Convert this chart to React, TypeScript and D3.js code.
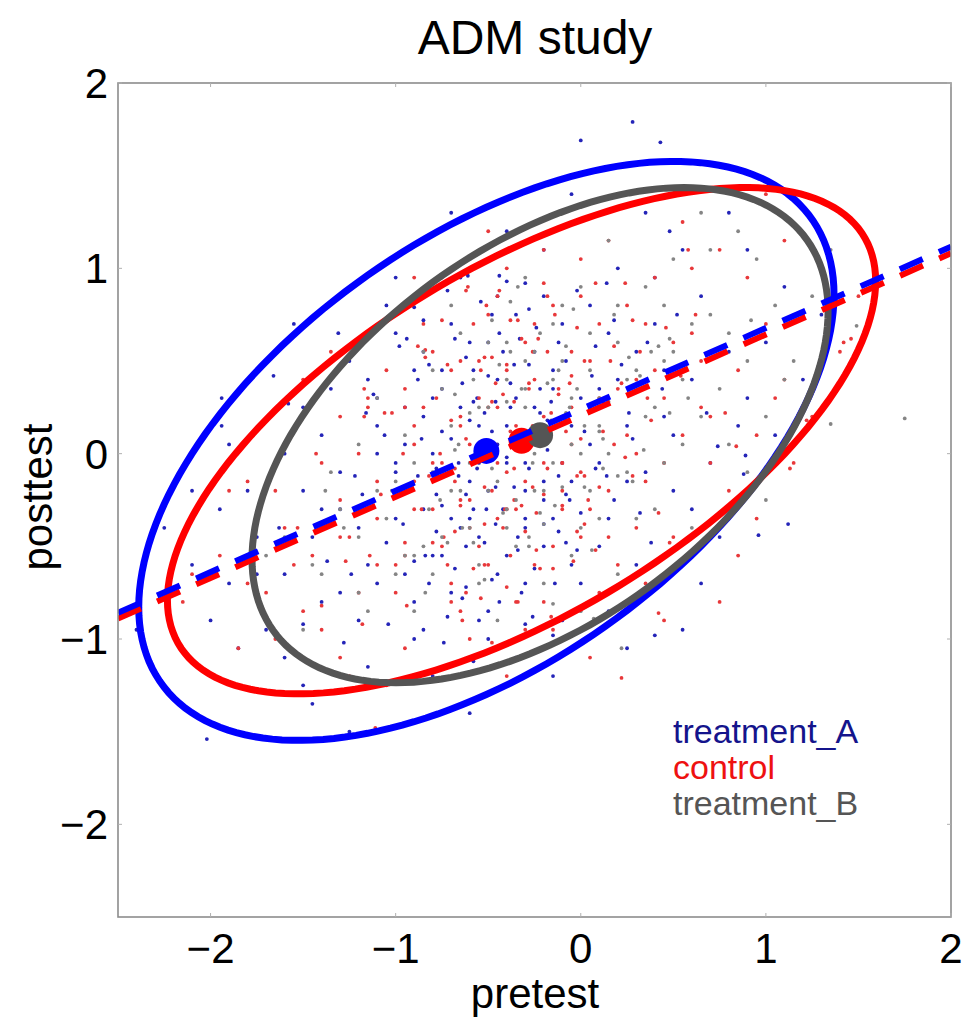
import { useEffect, useRef } from 'react';
import * as d3 from 'd3';

// scatter points: pretest, posttest pairs (in hundredths)
const treatmentA = [
  -120,-40, -35,30, -80,-55, 10,35, -150,-20, -60,60, -20,-25, 40,70, -95,5, -5,-60,
  -130,-75, -70,-10, 25,15, -45,85, -110,30, 15,-35, -160,-65, -25,55, 60,40, -85,-30,
  -200,-90, -55,-45, -10,20, -140,10, 35,-10, -75,45, -30,-70, 80,55, -115,-60, -40,15,
  5,80, -90,-100, -65,25, 50,-20, -175,-45, -15,45, -100,65, 20,100, -50,-20, -130,-10,
  90,30, -70,-75, -25,5, -160,-110, 30,55, -5,-15, -85,20, 65,85, -120,-90, -45,40,
  -180,-20, 10,-50, -60,-35, 45,20, -95,-65, -35,75, -145,-45, 70,-5, -20,110, -110,0,
  -55,-90, 15,65, -190,-70, -75,35, 100,60, -30,-40, -125,50, 0,30, -80,-120, 55,110,
  -210,-60, -40,-5, 25,-15, -100,-35, -65,95, 85,15, -150,25, -10,-90, -170,-95, 35,130,
  -85,55, -140,-80, 60,-30, -20,-50, -115,40, 110,90, -50,60, -200,-120, 5,5, -75,-55,
  -35,-110, -105,80, 20,40, -160,0, 75,-45, -60,-15, -225,-40, 40,95, -90,-80, -10,70,
  120,40, -130,-30, -45,-65, -5,140, -185,-105, 30,-60, -70,70, -115,-115, 90,110, -25,25,
  -150,-125, 50,10, -95,110, -30,-20, -170,50, 15,-85, -55,15, -240,-95, 65,-70, -80,0,
  -135,35, -15,-35, -60,-140, 105,10, -195,-30, -40,120, 25,-105, -100,-10, 130,75, -65,-40,
  -20,85, -125,-150, 0,-70, -85,-95, 45,45, -155,70, 80,130, -50,-100, -210,-20, -110,15,
  10,-5, -70,130, -175,-65, 55,-95, -30,-5, -145,-135, 95,-15, -90,45, -15,-120, -60,105,
  28,179, 0,169, 43,168, -202,-154, -131,65, -194,30, -194,15, -166,42, -158,27, -90,79,
  -44,96, -40,93, -61,96, 96,-44, 40,-98, 89,-1, 88,-11,
  -48,12, -28,-8, -62,-22, -38,38, -70,8, -18,18, -52,-48, -8,50, -88,-12, -42,-30,
  -33,62, -58,28, -75,-28, -12,-12, -95,25, -25,-62, -48,75, -68,-62, 2,12, -105,-48,
  -22,35, -82,48, -36,-18, -55,-5, -12,-42, -78,-42, -30,92, -62,52, -44,-80, 8,58,
  68,22, -118,-22, -26,-88, -6,-25, -98,58, 18,72, -137,-58, -51,-30, 32,-32, -72,88,
  -163,-40, -46,28, 112,-38, -15,-98, -85,72, 48,120, -128,-102, -58,-112, 74,4, -190,5,
  -2,-52, -116,22, -34,-52, 52,75, -150,-92, -78,-8, 14,92, -64,-78, -100,95, 38,-48,
  -45,5, -22,22, -66,-12, -30,-35, -58,45, -10,-5, -80,30, -40,-55, -15,35, -70,-35,
  -52,22, -28,48, -92,-20, -5,15, -62,-50, -36,5, -84,-55, 12,28, -48,-68, -20,-15,
  -75,12, -42,55, -100,-5, 0,-32, -56,-8, -24,68, -88,40, -34,-45, -110,-70, 22,48,
  -46,-18, -14,-70, -64,38, 6,42, -96,-38, -38,25, -72,-88, -18,2, -54,82, -122,-12,
  -8,-22, -60,18, -30,-92, 28,8, -86,8, -50,42, -104,-92, -26,12, -68,62, 14,-12,
  -40,-2, -78,-22, -12,60, -58,-30, -32,-75, 44,35, -94,62, -20,-38, -66,-5, -2,88,
  -140,-30, -50,-85, 18,-25, -82,-70, -44,65, -106,10, -16,28, -74,-102, 36,60, -56,30,
  -124,-65, -8,-48, -36,48, -90,-58, 26,22, -62,-72, -112,32, -28,78, -46,-38, 8,-8,
];

const control = [
  -90,-30, -10,20, -60,-40, 30,40, -130,-25, -40,45, 0,-10, 60,65, -75,-5, 15,-45,
  -110,-60, -50,0, 45,30, -25,70, -95,25, 35,-15, -145,-55, -5,55, 85,45, -65,-25,
  -180,-70, -35,-30, 10,30, -120,0, 55,10, -55,50, -15,-50, 100,70, -95,-55, -20,20,
  25,80, -70,-80, -45,25, 70,-5, -160,-40, 5,50, -80,55, 40,95, -30,-15, -110,-15,
  110,40, -50,-60, -5,5, -140,-95, 50,60, 15,-20, -65,15, 90,95, -100,-75, -25,40,
  -165,-20, 30,-40, -40,-30, 65,25, -75,-50, -15,80, -125,-45, 95,10, 0,105, -90,5,
  -35,-80, 35,70, -170,-75, -55,30, 120,75, -10,-30, -105,45, 20,35, -60,-100, 75,110,
  -195,-55, -20,-5, 45,-5, -80,-30, -45,85, 105,30, -130,20, 10,-75, -150,-85, 55,125,
  -65,50, -120,-75, 80,-20, 0,-45, -95,35, 130,100, -30,60, -185,-105, 25,10, -55,-50,
  -15,-95, -85,70, 40,45, -140,-5, 95,-35, -40,-10, -210,-65, 60,100, -70,-70, 10,70,
  140,55, -110,-35, -25,-60, 15,115, -165,-100, 50,-45, -50,75, -95,-105, 110,115, -5,25,
  -130,-110, 70,20, -75,95, -10,-20, -150,40, 35,-70, -35,15, -215,-80, 85,-55, -60,5,
  -115,30, 5,-30, -40,-120, 125,20, -175,-35, -20,110, 45,-90, -80,-5, 150,85, -45,-35,
  0,85, -105,-125, 20,-60, -65,-85, 65,50, -135,55, 100,140, -30,-95, -190,-20, -90,15,
  30,0, -50,120, -155,-60, 75,-80, -10,-5, -125,-120, 115,-5, -70,45, 5,-110, -40,100,
  22,-121, 42,-86, 113,-8, 142,60, 146,62, -111,-148, -61,90, -51,80, -84,56, -117,35,
  -115,25, -143,0, -117,20,
  -38,12, -18,-8, -52,-18, -28,38, -62,8, -8,18, -42,-40, 2,50, -78,-12, -32,-28,
  -23,62, -48,28, -65,-28, -2,-12, -85,25, -15,-62, -38,72, -58,-62, 12,12, -95,-48,
  -12,35, -72,48, -26,-18, -45,-5, -2,-42, -68,-42, -20,92, -52,52, -34,-80, 18,58,
  78,22, -108,-22, -16,-88, 4,-25, -88,58, 28,72, -127,-58, -41,-30, 42,-32, -62,88,
  -153,-40, -36,28, 122,18, -5,-98, -75,72, 58,110, -118,-92, -48,-102, 84,4, -180,-15,
  8,-52, -106,22, -24,-52, 62,75, -140,-82, -68,-8, 24,92, -54,-78, -90,95, 48,-48,
  -35,12, -12,32, -56,-2, -20,-22, -48,52, 0,8, -70,18, -30,-42, -5,42, -60,-25,
  -42,32, -18,55, -82,-12, 5,25, -52,-38, -26,15, -74,-45, 22,38, -38,-55, -10,-5,
  -65,20, -32,62, -90,-15, 10,-18, -46,5, -14,75, -78,30, -24,-32, -100,-60, 32,55,
  -36,-8, -4,-58, -54,45, 16,50, -86,-30, -28,35, -62,-75, -8,12, -44,88, -112,-25,
  2,-12, -50,25, -20,-80, 38,18, -76,0, -40,48, -94,-82, -16,22, -58,70, 24,-2,
  -30,8, -68,-15, -2,68, -48,-20, -22,-62, 54,42, -84,52, -10,-28, -56,2, 8,92,
  -130,-45, -40,-72, 28,-12, -72,-60, -34,72, -96,0, -6,38, -64,-90, 46,68, -46,38,
  -114,-55, 2,-38, -26,55, -80,-48, 36,30, -52,-60, -102,22, -18,85, -36,-25, 18,5,
];

const treatmentB = [
  -70,-20, 10,30, -40,-30, 45,50, -100,-15, -25,55, 15,0, 70,75, -55,5, 30,-35,
  -85,-50, -30,10, 55,40, -10,80, -75,35, 45,-5, -120,-45, 5,65, 90,50, -45,-15,
  -145,-60, -20,-20, 25,40, -95,10, 65,20, -40,60, 0,-40, 105,80, -75,-45, -5,30,
  35,90, -55,-70, -30,35, 80,5, -130,-30, 20,60, -65,65, 50,105, -15,-5, -90,-5,
  115,50, -35,-50, 10,15, -115,-85, 60,70, 25,-10, -50,25, 95,105, -80,-65, -10,50,
  -135,-10, 40,-30, -25,-20, 75,35, -60,-40, 0,90, -105,-35, 100,20, 15,115, -70,15,
  -20,-70, 45,80, -140,-65, -40,40, 125,85, 5,-20, -85,55, 30,45, -45,-90, 85,120,
  -160,-45, -5,5, 55,5, -65,-20, -30,95, 110,40, -110,30, 20,-65, -120,-75, 65,130,
  -50,60, -100,-65, 90,-10, 10,-35, -80,45, 135,110, -15,70, -150,-95, 35,20, -40,-40,
  0,-85, -70,80, 50,55, -120,5, 100,-25, -25,0, -170,-55, 70,110, -55,-60, 20,80,
  -30,25, -5,-55, -60,-5, 40,25, -90,-85, -15,40, 80,65, -45,-105, 60,-40, -110,-20,
  175,19, -35,-25, 12,8, -58,40, 28,-15, -82,-30, -8,22, 48,62, -28,-45, -48,-8,
  -12,45, -68,2, 38,55, -22,-32, 18,75, -95,-55, 58,30, -38,82, 2,-18, -128,-40,
  149,69, 135,16, 7,-89, -15,-81, -52,110, 22,-105, -72,-48, 92,72, -138,-20, -18,12,
  -25,15, -2,35, -46,2, -10,-18, -38,55, 10,12, -60,22, -20,-38, 5,45, -50,-20,
  -32,35, -8,58, -72,-8, 15,28, -42,-32, -16,18, -64,-40, 32,42, -28,-50, 0,0,
  -55,25, -22,65, -80,-10, 20,-12, -36,8, -4,78, -68,32, -14,-28, -90,-55, 42,58,
  -26,-5, 6,-52, -44,48, 26,52, -76,-25, -18,38, -52,-68, 2,15, -34,90, -102,-20,
  12,-8, -40,28, 48,22, -66,5, -30,50, -84,-75, -6,25, -48,72, 34,2, -58,-48,
];

const groups = ['treatment_A', 'control', 'treatment_B'];
const pointColors = ['#2424b8', '#e8383a', '#858585'];
const lineColors = ['#0000ff', '#ff0000', '#555555'];
const legendColors = ['#14148c', '#ee1111', '#555555'];

// group means and 95% ellipse (half extents, correlation)
const meanPretest = [-0.51, -0.32, -0.22];
const meanPosttest = [0.015, 0.07, 0.1];
const ellipseRx = [1.878, 1.913, 1.556];
const ellipseRy = [1.562, 1.366, 1.336];
const ellipseRho = [0.54, 0.63, 0.5];

// regression lines (treatment_A, control)
const lineIntercept = [0.239, 0.205];
const lineSlope = [0.439, 0.438];

const xTicks = [-2, -1, 0, 1, 2];
const yTicks = [-2, -1, 0, 1, 2];

function App() {
  const ref = useRef<SVGSVGElement>(null);

  useEffect(() => {
    drawChart();
    // eslint-disable-next-line
  }, []);

  function drawChart() {
    const svg = d3.select(ref.current);
    svg.selectAll('*').remove();

    const font = '"Liberation Sans", Arial, sans-serif';
    const x = d3.scaleLinear().domain([-2.5, 2]).range([118, 951]);
    const y = d3.scaleLinear().domain([-2.5, 2]).range([917, 83]);

    svg.append('defs').append('clipPath').attr('id', 'plot-clip')
      .append('rect')
      .attr('x', 118).attr('y', 83)
      .attr('width', 951 - 118).attr('height', 917 - 83);

    const plot = svg.append('g').attr('clip-path', 'url(#plot-clip)');

    const sets = [treatmentA, control, treatmentB].map(arr =>
      d3.range(arr.length / 2).map(i => [arr[2 * i] / 100, arr[2 * i + 1] / 100]));

    sets.forEach((pts, gi) => {
      plot.append('g')
        .selectAll('circle')
        .data(pts)
        .enter()
        .append('circle')
        .attr('cx', d => x(d[0]))
        .attr('cy', d => y(d[1]))
        .attr('r', 1.9)
        .attr('fill', pointColors[gi]);
    });

    // ellipses
    const angles = d3.range(0, 2 * Math.PI, Math.PI / 90);
    const ellipseLine = d3.line<number[]>()
      .x(d => x(d[0]))
      .y(d => y(d[1]))
      .curve(d3.curveLinearClosed);

    groups.forEach((_, gi) => {
      const rho = ellipseRho[gi];
      const pts = angles.map(t => [
        meanPretest[gi] + ellipseRx[gi] * Math.cos(t),
        meanPosttest[gi] + ellipseRy[gi] * (rho * Math.cos(t) + Math.sqrt(1 - rho * rho) * Math.sin(t)),
      ]);
      plot.append('path')
        .attr('d', ellipseLine(pts))
        .attr('fill', 'none')
        .attr('stroke', lineColors[gi])
        .attr('stroke-width', 7);
    });

    // group means
    groups.forEach((_, gi) => {
      plot.append('circle')
        .attr('cx', x(meanPretest[gi]))
        .attr('cy', y(meanPosttest[gi]))
        .attr('r', 13)
        .attr('fill', lineColors[gi]);
    });

    // dashed regression lines, control first then treatment_A on top
    [1, 0].forEach(gi => {
      plot.append('line')
        .attr('x1', x(-2.5))
        .attr('y1', y(lineIntercept[gi] + lineSlope[gi] * -2.5))
        .attr('x2', x(2))
        .attr('y2', y(lineIntercept[gi] + lineSlope[gi] * 2))
        .attr('stroke', lineColors[gi])
        .attr('stroke-width', 6)
        .attr('stroke-dasharray', '25 17.7');
    });

    // frame
    svg.append('rect')
      .attr('x', 118).attr('y', 83)
      .attr('width', 951 - 118).attr('height', 917 - 83)
      .attr('fill', 'none')
      .attr('stroke', '#8c8c8c')
      .attr('stroke-width', 1.6);

    const ticks = svg.append('g').attr('stroke', '#b0b0b0').attr('stroke-width', 1);
    xTicks.forEach(t => {
      ticks.append('line').attr('x1', x(t)).attr('x2', x(t)).attr('y1', 917).attr('y2', 913);
      ticks.append('line').attr('x1', x(t)).attr('x2', x(t)).attr('y1', 83).attr('y2', 87);
    });
    yTicks.forEach(t => {
      ticks.append('line').attr('y1', y(t)).attr('y2', y(t)).attr('x1', 118).attr('x2', 122);
      ticks.append('line').attr('y1', y(t)).attr('y2', y(t)).attr('x1', 951).attr('x2', 947);
    });

    const fmt = (t: number) => (t < 0 ? '\u2212' + Math.abs(t) : String(t));

    svg.append('g')
      .selectAll('text')
      .data(xTicks)
      .enter()
      .append('text')
      .attr('x', d => x(d))
      .attr('y', 963)
      .attr('text-anchor', 'middle')
      .style('font-family', font)
      .style('font-size', '42px')
      .text(d => fmt(d));

    svg.append('g')
      .selectAll('text')
      .data(yTicks)
      .enter()
      .append('text')
      .attr('x', 108)
      .attr('y', d => y(d) + 15)
      .attr('text-anchor', 'end')
      .style('font-family', font)
      .style('font-size', '42px')
      .text(d => fmt(d));

    svg.append('text')
      .attr('x', 535).attr('y', 54)
      .attr('text-anchor', 'middle')
      .style('font-family', font)
      .style('font-size', '48px')
      .text('ADM study');

    svg.append('text')
      .attr('x', 535).attr('y', 1008)
      .attr('text-anchor', 'middle')
      .style('font-family', font)
      .style('font-size', '42px')
      .text('pretest');

    svg.append('text')
      .attr('transform', 'translate(52,497) rotate(-90)')
      .attr('text-anchor', 'middle')
      .style('font-family', font)
      .style('font-size', '42px')
      .text('posttest');

    groups.forEach((g, gi) => {
      svg.append('text')
        .attr('x', 673)
        .attr('y', 743 + gi * 36)
        .style('font-family', font)
        .style('font-size', '34px')
        .attr('fill', legendColors[gi])
        .text(g);
    });
  }

  return (
    <div>
      <style>{'body{margin:0}'}</style>
      <svg ref={ref} width={965} height={1026}></svg>
    </div>
  );
}

export default App;
